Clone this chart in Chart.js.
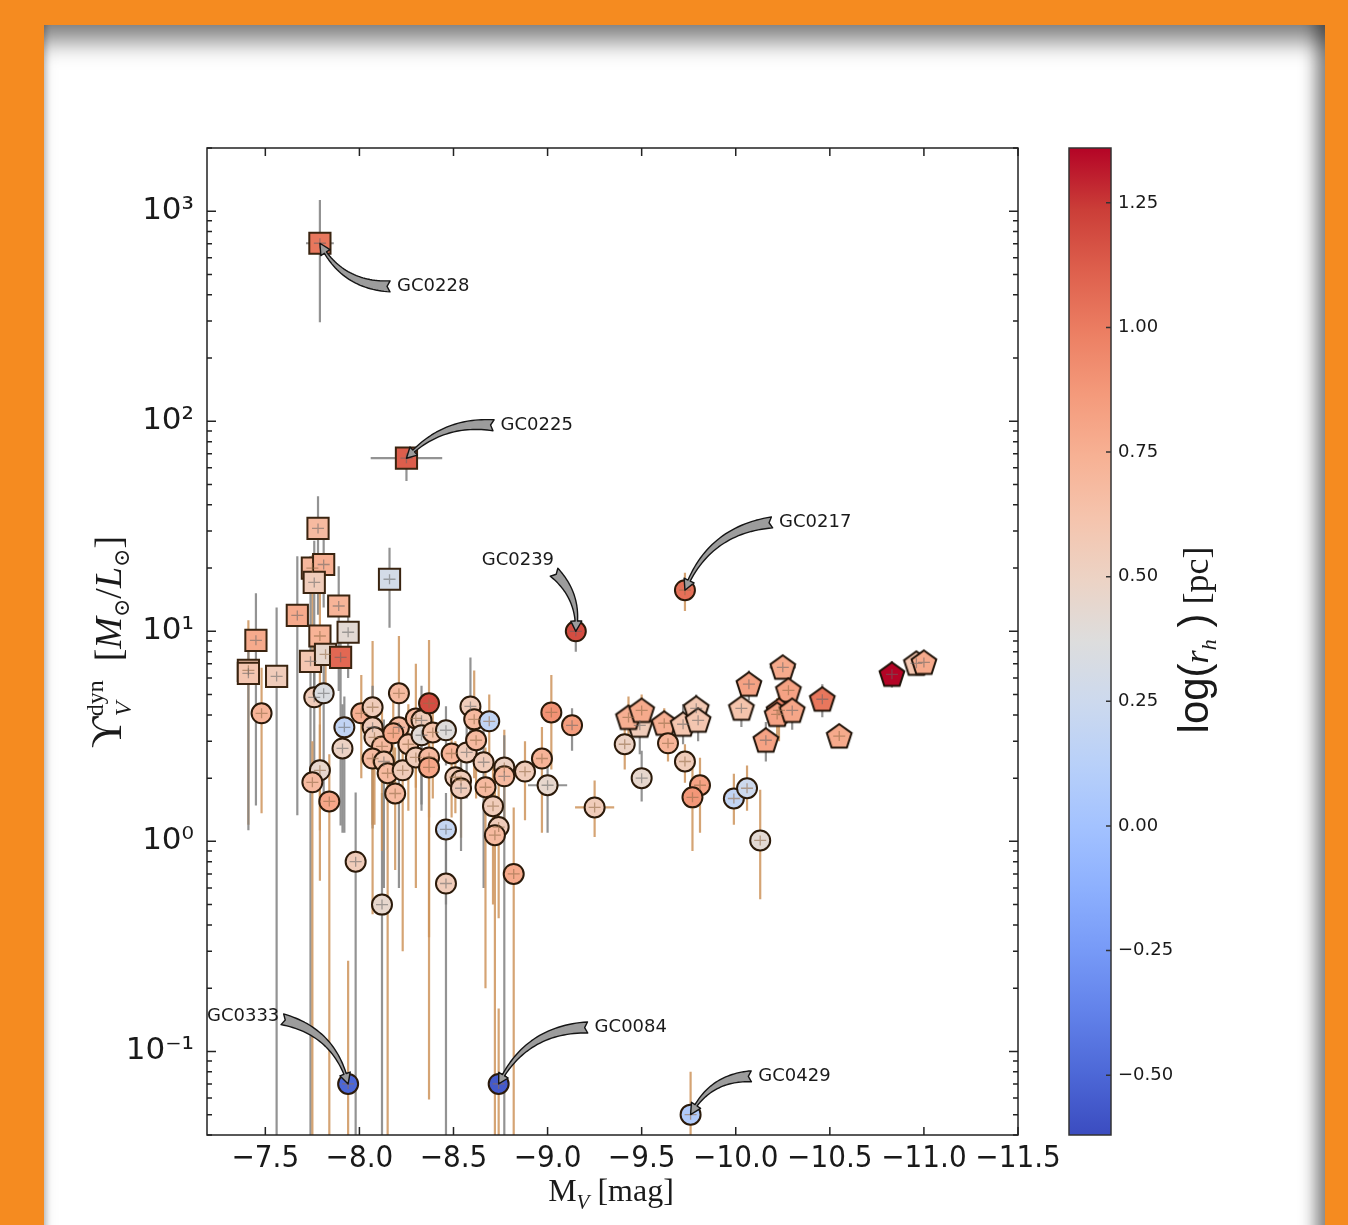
<!DOCTYPE html>
<html>
<head>
<meta charset="utf-8">
<script src="https://cdn.jsdelivr.net/npm/chart.js@4.4.1/dist/chart.umd.min.js"></script>
<style>
  html, body { margin: 0; padding: 0; }
  body { width: 1348px; height: 1225px; background: #f58b20; position: relative; overflow: hidden; }
  #panel { position: absolute; left: 44px; top: 25px; width: 1281px; height: 1260px; background: #fff;
    box-shadow: inset 0 30px 24px -14px rgba(0,0,0,0.5), inset -24px 0 16px -14px rgba(0,0,0,0.45), inset 7px 0 6px -5px rgba(0,0,0,0.25); }
  #main { position: absolute; left: 0; top: 0; }
  #cbar { position: absolute; left: 1060px; top: 0; }
</style>
</head>
<body>
<div id="panel"></div>
<canvas id="main" width="1348" height="1225"></canvas>
<canvas id="cbar" width="288" height="1225"></canvas>
<script>
// axis ticks
const xTickVals = [-7.5, -8.0, -8.5, -9.0, -9.5, -10.0, -10.5, -11.0, -11.5];
const yTickVals = [0.1, 1, 10, 100, 1000];
const yTickLabels = ['10⁻¹', '10⁰', '10¹', '10²', '10³'];
const cbTickVals = [-0.5, -0.25, 0, 0.25, 0.5, 0.75, 1.0, 1.25];
const RH_MIN = -0.62, RH_MAX = 1.36;

// squares: M_V, M/L, lower, upper, log(rh), error source, x error
const sqM  = [-7.79, -8.25, -7.78, -7.75, -7.81, -7.76, -8.16, -7.67, -7.89, -7.45, -7.79, -7.94, -7.74, -7.82, -7.90, -7.41, -7.41, -7.56];
const sqY  = [704, 66.7, 30.9, 20.0, 20.8, 17.1, 17.7, 11.9, 13.2, 9.06, 9.5, 9.9, 7.2, 7.77, 7.52, 6.52, 6.31, 6.1];
const sqLo = [296, 52, 12, 8, 13, 5, 10.4, 1.33, 5.2, 1.48, 1.13, 6.0, 0.03, 4.7, 1.19, 1.2, 1.13, 0.03];
const sqHi = [1130, 75, 44, 23, 28.7, 27, 25, 22.8, 20.4, 15.2, 23, 11.7, 22.8, 9.1, 9.1, 11.3, 10, 13];
const sqRh = [1.02, 1.12, 0.68, 0.7, 0.75, 0.55, 0.3, 0.78, 0.72, 0.78, 0.73, 0.42, 0.6, 0.45, 1.08, 0.62, 0.6, 0.55];
const sqSrc = ['g','g','g','o','g','g','g','g','g','g','o','g','g','o','g','o','g','g'];
const sqXe = [0.074, 0.19, 0.04, 0.04, 0.04, 0.04, 0.04, 0.04, 0.04, 0.04, 0.04, 0.04, 0.04, 0.04, 0.04, 0.04, 0.04, 0.04];

// circles
const ciM = [-7.48,-7.76,-7.81,-7.92,-7.91,-7.79,-7.75,-7.84,-7.98,-8.12,
  -8.01,-8.07,-8.07,-8.08,-8.12,-8.07,-8.13,-8.15,-8.19,-8.21,
  -8.21,-8.18,-8.23,-8.26,-8.30,-8.33,-8.33,-8.37,-8.30,-8.37,
  -8.37,-8.39,-8.46,-8.49,-8.57,-8.51,-8.54,-8.54,-8.59,-8.61,
  -8.69,-8.62,-8.66,-8.77,-8.77,-8.67,-8.71,-8.74,-8.72,-8.46,
  -8.46,-8.82,-8.88,-8.97,-9.00,-9.02,-9.13,-9.25,-9.41,-9.50,
  -9.64,-9.73,-9.81,-9.77,-9.99,-10.06,-10.13,-9.73,-9.15,-7.94,
  -8.74,-9.76];
const ciY = [4.07,4.85,5.07,3.49,2.77,2.18,1.91,1.55,0.80,0.50,
  4.07,4.35,3.49,3.13,2.83,2.48,2.40,2.11,1.69,5.07,
  3.49,3.27,2.18,2.90,3.85,3.77,3.20,4.54,2.51,2.51,
  2.25,3.30,3.38,2.62,2.65,2.02,1.95,1.79,4.39,3.81,
  3.73,3.03,2.38,2.25,2.04,1.81,1.47,1.17,1.07,1.14,
  0.63,0.70,2.15,2.48,1.85,4.11,3.57,1.45,2.90,2.00,
  2.93,2.40,1.85,1.62,1.60,1.79,1.01,15.7,10.0,0.070,
  0.070,0.050];
const ciLo = [1.36,2.0,1.6,1.1,1.1,0.65,0.03,0.03,0.03,0.03,
  2.0,1.2,1.15,1.2,0.9,0.45,0.6,0.03,0.73,2.0,
  0.6,1.5,0.3,1.4,1.8,1.5,1.4,0.059,0.6,1.3,
  0.35,1.6,2.3,1.3,1.6,1.36,1.04,0.9,2.5,2.0,
  2.3,1.6,0.6,1.2,0.03,0.2,0.5,0.43,0.03,0.5,
  0.03,0.03,1.26,1.1,1.1,2.2,2.7,1.05,2.2,1.55,
  2.4,1.9,1.1,0.9,1.2,1.4,0.53,12.5,8.0,0.03,
  0.03,0.03];
const ciHi = [6.7,8.5,9.5,4.9,4.5,3.6,3.0,2.6,1.71,1.7,
  6.2,9.0,5.5,4.6,4.5,4.0,3.8,3.6,2.8,9.5,
  5.3,4.8,3.2,4.5,7.0,5.5,4.6,9.1,3.8,3.9,
  3.4,4.8,4.4,3.7,3.6,3.0,2.9,2.7,7.5,6.5,
  5.0,4.4,3.4,3.4,3.2,2.8,2.4,1.9,2.0,1.7,
  1.1,1.45,3.0,3.5,2.6,6.2,4.3,1.95,3.8,2.7,
  3.5,2.9,2.5,2.25,2.1,2.3,1.76,19,11.5,0.27,
  0.16,0.08];
const ciRh = [0.72,0.55,0.35,0.18,0.5,0.45,0.68,0.8,0.55,0.45,
  0.75,0.55,0.55,0.55,0.68,0.68,0.6,0.68,0.68,0.68,
  0.68,0.78,0.55,0.62,0.68,0.55,0.4,1.18,0.55,0.68,
  0.8,0.62,0.38,0.72,0.55,0.55,0.55,0.55,0.55,0.68,
  0.18,0.68,0.55,0.5,0.68,0.68,0.55,0.55,0.68,0.2,
  0.55,0.78,0.55,0.72,0.45,0.9,0.85,0.55,0.5,0.45,
  0.72,0.55,0.82,0.88,0.18,0.25,0.42,1.05,1.18,-0.5,
  -0.56,0.08];
const ciSrc = ['o','g','g','g','g','o','o','o','g','g',
  'o','o','g','o','o','o','g','o','o','o',
  'g','o','o','o','o','g','g','o','o','o',
  'o','o','g','o','g','o','o','g','g','o',
  'o','o','g','o','g','o','o','o','o','g',
  'g','o','o','o','g','o','g','o','o','g',
  'o','o','o','o','o','o','o','o','g','o',
  'o','o'];
const ciXe = ciM.map((m, i) => (i === 54 || i === 57) ? 0.104 : (i === 37 ? 0.05 : 0.04));

// pentagons
const peM  = [-9.49,-9.43,-9.50,-9.62,-9.72,-9.79,-9.80,-10.03,-10.07,-10.25,-10.28,-10.23,-10.22,-10.30,-10.16,-10.46,-10.55,-10.83,-10.96,-11.00];
const peY  = [3.57,3.89,4.20,3.65,3.61,4.30,3.77,4.30,5.60,6.74,5.24,4.20,4.02,4.20,3.03,4.75,3.17,6.24,7.04,7.11];
const peLo = [2.6,3.0,3.4,2.9,2.9,3.5,3.0,3.5,4.7,6.0,4.4,3.0,3.2,3.4,2.4,3.9,2.8,5.4,6.5,6.5];
const peHi = [4.2,4.9,5.0,4.3,4.5,5.0,4.6,5.0,6.5,7.5,6.1,5.0,4.8,5.0,3.7,5.6,3.6,7.2,7.6,7.7];
const peRh = [0.55,0.75,0.78,0.75,0.6,0.58,0.6,0.62,0.82,0.78,0.82,0.95,0.82,0.8,0.82,1.02,0.78,1.36,0.6,0.78];
const peSrc = ['g','o','o','o','g','g','g','g','g','g','o','o','o','g','g','g','o','g','g','g'];
const peXe = peM.map((m, i) => i === 9 ? 0.07 : 0.04);

// annotations
const annLabel = ['GC0228', 'GC0225', 'GC0217', 'GC0239', 'GC0333', 'GC0084', 'GC0429'];
const annTextM = [-8.20, -8.75, -10.23, -8.65, -7.19, -9.25, -10.12];
const annTextY = [439, 95.7, 33.0, 21.8, 0.147, 0.130, 0.0761];
const annSet = [0, 0, 1, 1, 1, 1, 1];
const annIdx = [0, 1, 67, 68, 69, 70, 71];
const annFrom = ['L', 'L', 'L', 'B', 'R', 'L', 'L'];
const annRad = [0.3, -0.25, -0.3, 0.25, 0.3, -0.3, -0.3];

const COOL = [[0,59,76,192],[0.0625,77,104,215],[0.125,98,130,234],[0.1875,119,154,247],[0.25,141,176,254],
  [0.3125,163,194,255],[0.375,184,208,249],[0.4375,204,217,238],[0.5,221,221,221],[0.5625,236,211,197],
  [0.625,245,196,173],[0.6875,247,177,148],[0.75,244,154,123],[0.8125,236,127,99],[0.875,222,96,77],
  [0.9375,203,62,56],[1,180,4,38]];

function coolwarm(v) {
  let t = (v - RH_MIN) / (RH_MAX - RH_MIN);
  t = Math.max(0, Math.min(1, t));
  for (let i = 1; i < COOL.length; i++) {
    if (t <= COOL[i][0]) {
      const a = COOL[i - 1], b = COOL[i], f = (t - a[0]) / (b[0] - a[0]);
      return 'rgb(' + [1, 2, 3].map(k => Math.round(a[k] + f * (b[k] - a[k]))).join(',') + ')';
    }
  }
  return 'rgb(180,4,38)';
}

function pentagon(color) {
  const c = document.createElement('canvas');
  c.width = 32; c.height = 32;
  const g = c.getContext('2d');
  g.beginPath();
  for (let k = 0; k < 5; k++) {
    const a = -Math.PI / 2 + k * 2 * Math.PI / 5;
    const px = 16 + 13 * Math.cos(a), py = 17 + 13 * Math.sin(a);
    k ? g.lineTo(px, py) : g.moveTo(px, py);
  }
  g.closePath();
  g.fillStyle = color; g.fill();
  g.strokeStyle = '#1e1208'; g.lineWidth = 2; g.stroke();
  return c;
}

const groups = [
  {M: sqM, Y: sqY, lo: sqLo, hi: sqHi, src: sqSrc, xe: sqXe},
  {M: ciM, Y: ciY, lo: ciLo, hi: ciHi, src: ciSrc, xe: ciXe},
  {M: peM, Y: peY, lo: peLo, hi: peHi, src: peSrc, xe: peXe}
];
const srcColor = {g: 'rgba(128,128,128,0.85)', o: 'rgba(206,148,92,0.85)'};

function fancyArrow(ctx, S, E, rad) {
  const dx = E.x - S.x, dy = E.y - S.y;
  const C = {x: (S.x + E.x) / 2 + rad * dy, y: (S.y + E.y) / 2 - rad * dx};
  const P = t => ({x: (1-t)*(1-t)*S.x + 2*(1-t)*t*C.x + t*t*E.x, y: (1-t)*(1-t)*S.y + 2*(1-t)*t*C.y + t*t*E.y});
  const D = t => {
    const x = 2*(1-t)*(C.x-S.x) + 2*t*(E.x-C.x), y = 2*(1-t)*(C.y-S.y) + 2*t*(E.y-C.y);
    const l = Math.hypot(x, y) || 1;
    return {x: x / l, y: y / l};
  };
  const N = 60, acc = [0];
  let prev = P(0);
  for (let i = 1; i <= N; i++) { const p = P(i / N); acc.push(acc[i-1] + Math.hypot(p.x - prev.x, p.y - prev.y)); prev = p; }
  const total = acc[N], headLen = 11;
  let tb = 1;
  for (let i = 0; i <= N; i++) { if (acc[i] >= total - headLen) { tb = i / N; break; } }
  const left = [], right = [], K = 30;
  for (let i = 0; i <= K; i++) {
    const t = tb * i / K, p = P(t), d = D(t), w = 5.5 * (1 - i / K) + 1.2 * (i / K);
    left.push({x: p.x - d.y * w, y: p.y + d.x * w});
    right.push({x: p.x + d.y * w, y: p.y - d.x * w});
  }
  const pb = P(tb), db = D(tb), hw = 5.5, d0 = D(0);
  ctx.beginPath();
  ctx.moveTo(left[0].x, left[0].y);
  left.forEach(p => ctx.lineTo(p.x, p.y));
  ctx.lineTo(pb.x - db.y * hw, pb.y + db.x * hw);
  ctx.lineTo(E.x, E.y);
  ctx.lineTo(pb.x + db.y * hw, pb.y - db.x * hw);
  for (let i = K; i >= 0; i--) ctx.lineTo(right[i].x, right[i].y);
  ctx.lineTo(S.x + d0.x * 3, S.y + d0.y * 3);
  ctx.closePath();
  ctx.fillStyle = '#9c9c9c'; ctx.fill();
  ctx.strokeStyle = '#151515'; ctx.lineWidth = 1.4; ctx.lineJoin = 'round'; ctx.stroke();
}

function richText(ctx, parts, cx, cy, rot) {
  ctx.save();
  ctx.translate(cx, cy); ctx.rotate(rot);
  let x = 0, lastStart = 0;
  const items = [];
  parts.forEach(p => {
    ctx.font = p.f;
    const w = ctx.measureText(p.t).width;
    if (p.same) { items.push({p, x: lastStart}); x = Math.max(x, lastStart + w); }
    else { items.push({p, x}); lastStart = x; x += w; }
  });
  ctx.fillStyle = '#1a1a1a'; ctx.textBaseline = 'alphabetic'; ctx.textAlign = 'left';
  items.forEach(it => { ctx.font = it.p.f; ctx.fillText(it.p.t, it.x - x / 2, it.p.dy || 0); });
  ctx.restore();
}

const errPlugin = {
  id: 'errbars',
  beforeDatasetsDraw(chart) {
    const {ctx, chartArea: a, scales: {x, y}} = chart;
    ctx.save();
    ctx.beginPath(); ctx.rect(a.left, a.top, a.width, a.height); ctx.clip();
    ctx.lineWidth = 2.2;
    groups.forEach(g => g.M.forEach((m, i) => {
      const px = x.getPixelForValue(m), py = y.getPixelForValue(g.Y[i]);
      ctx.strokeStyle = srcColor[g.src[i]];
      ctx.beginPath();
      ctx.moveTo(px, y.getPixelForValue(g.lo[i])); ctx.lineTo(px, y.getPixelForValue(g.hi[i]));
      ctx.moveTo(x.getPixelForValue(m - g.xe[i]), py); ctx.lineTo(x.getPixelForValue(m + g.xe[i]), py);
      ctx.stroke();
    }));
    ctx.restore();
  },
  afterDatasetsDraw(chart) {
    const {ctx, scales: {x, y}} = chart;
    ctx.save();
    ctx.lineWidth = 1.3;
    groups.forEach(g => g.M.forEach((m, i) => {
      const px = x.getPixelForValue(m), py = y.getPixelForValue(g.Y[i]);
      const hx = Math.min(Math.abs(x.getPixelForValue(m + g.xe[i]) - px), 6);
      ctx.strokeStyle = g.src[i] === 'g' ? 'rgba(100,100,100,0.55)' : 'rgba(150,110,75,0.6)';
      ctx.beginPath();
      ctx.moveTo(px - hx, py); ctx.lineTo(px + hx, py);
      ctx.moveTo(px, py - 5); ctx.lineTo(px, py + 5);
      ctx.stroke();
    }));
    // annotations
    ctx.font = '18px "DejaVu Sans"';
    annLabel.forEach((lab, k) => {
      const tx = x.getPixelForValue(annTextM[k]), ty = y.getPixelForValue(annTextY[k]);
      const w = ctx.measureText(lab).width;
      const el = chart.getDatasetMeta(annSet[k]).data[annIdx[k]];
      let S;
      if (annFrom[k] === 'L') S = {x: tx - 7, y: ty};
      else if (annFrom[k] === 'R') S = {x: tx + w + 3, y: ty + 3};
      else S = {x: tx + w, y: ty + 12};
      fancyArrow(ctx, S, {x: el.x, y: el.y}, annRad[k]);
      ctx.fillStyle = '#1a1a1a'; ctx.textBaseline = 'middle'; ctx.textAlign = 'left';
      ctx.fillText(lab, tx, ty);
    });
    ctx.restore();
  },
  afterDraw(chart) {
    const {ctx, chartArea: a, scales: {x, y}} = chart;
    ctx.save();
    ctx.strokeStyle = '#222'; ctx.lineWidth = 1.5;
    ctx.strokeRect(a.left, a.top, a.width, a.height);
    ctx.beginPath();
    xTickVals.forEach(v => {
      const p = x.getPixelForValue(v);
      ctx.moveTo(p, a.bottom); ctx.lineTo(p, a.bottom - 8);
      ctx.moveTo(p, a.top); ctx.lineTo(p, a.top + 8);
    });
    for (let e = -2; e <= 3; e++) {
      for (let k = 1; k < 10; k++) {
        const v = k * Math.pow(10, e);
        if (v < y.min || v > y.max) continue;
        const p = y.getPixelForValue(v), L = k === 1 ? 9 : 5;
        ctx.moveTo(a.left, p); ctx.lineTo(a.left + L, p);
        ctx.moveTo(a.right, p); ctx.lineTo(a.right - L, p);
      }
    }
    ctx.stroke();
    ctx.restore();
    // axis titles
    richText(ctx, [
      {t: 'ϒ', f: '44px "Liberation Serif", "DejaVu Serif"'},
      {t: 'dyn', f: '24px "Liberation Serif"', dy: -18},
      {t: 'V', f: 'italic 24px "Liberation Serif"', dy: 10, same: true},
      {t: '  [', f: '38px "Liberation Serif"'},
      {t: 'M', f: 'italic 38px "Liberation Serif"'},
      {t: '⊙', f: '22px "DejaVu Serif"', dy: 8},
      {t: '/', f: '38px "Liberation Serif"'},
      {t: 'L', f: 'italic 38px "Liberation Serif"'},
      {t: '⊙', f: '22px "DejaVu Serif"', dy: 8},
      {t: ']', f: '38px "Liberation Serif"'}
    ], 121, 642, -Math.PI / 2);
    richText(ctx, [
      {t: 'M', f: '32px "Liberation Serif"'},
      {t: 'V', f: 'italic 21px "Liberation Serif"', dy: 8},
      {t: ' [mag]', f: '32px "Liberation Serif"'}
    ], 611, 1201, 0);
  }
};

Chart.defaults.font.family = '"DejaVu Sans", sans-serif';

new Chart(document.getElementById('main'), {
  type: 'scatter',
  data: {
    datasets: [
      {data: sqM.map((m, i) => ({x: m, y: sqY[i]})), pointStyle: 'rect', pointRadius: 15,
       pointBackgroundColor: sqRh.map(coolwarm), pointBorderColor: '#3a2410', pointBorderWidth: 2},
      {data: ciM.map((m, i) => ({x: m, y: ciY[i]})), pointStyle: 'circle', pointRadius: 10,
       pointBackgroundColor: ciRh.map(coolwarm), pointBorderColor: '#2b1a0a', pointBorderWidth: 2},
      {data: peM.map((m, i) => ({x: m, y: peY[i]})), pointStyle: peRh.map(v => pentagon(coolwarm(v))), pointRadius: 13}
    ]
  },
  options: {
    responsive: false, animation: false, events: [],
    layout: {padding: {left: 0, top: 148, right: 330, bottom: 0}},
    plugins: {legend: {display: false}, tooltip: {enabled: false}},
    scales: {
      x: {
        type: 'linear', min: -11.5, max: -7.19, reverse: true,
        afterBuildTicks: s => { s.ticks = xTickVals.map(v => ({value: v})); },
        afterFit: s => { s.height = 90; },
        ticks: {callback: v => v.toFixed(1).replace('-', '−'), font: {family: '"DejaVu Sans Condensed", "DejaVu Sans"', size: 31},
                color: '#1a1a1a', padding: 5, maxRotation: 0, autoSkip: false},
        grid: {display: false, drawTicks: false}, border: {display: false}
      },
      y: {
        type: 'logarithmic', min: 0.04, max: 2000,
        afterBuildTicks: s => { s.ticks = yTickVals.map(v => ({value: v})); },
        afterFit: s => { s.width = 207; },
        ticks: {callback: v => yTickLabels[yTickVals.indexOf(v)], font: {size: 31}, color: '#1a1a1a', padding: 13, autoSkip: false},
        grid: {display: false, drawTicks: false}, border: {display: false}
      }
    }
  },
  plugins: [errPlugin]
});

const cbarPlugin = {
  id: 'cbar',
  beforeDatasetsDraw(chart) {
    const {ctx, chartArea: a, scales: {y}} = chart;
    ctx.save();
    const g = ctx.createLinearGradient(0, y.getPixelForValue(RH_MIN), 0, y.getPixelForValue(RH_MAX));
    COOL.forEach(s => g.addColorStop(s[0], 'rgb(' + s[1] + ',' + s[2] + ',' + s[3] + ')'));
    ctx.fillStyle = g;
    ctx.fillRect(a.left, a.top, a.width, a.height);
    ctx.strokeStyle = '#333'; ctx.lineWidth = 1.5;
    ctx.strokeRect(a.left, a.top, a.width, a.height);
    ctx.beginPath();
    cbTickVals.forEach(v => { const p = y.getPixelForValue(v); ctx.moveTo(a.right, p); ctx.lineTo(a.right - 5, p); });
    ctx.stroke();
    ctx.restore();
    richText(ctx, [
      {t: 'log(', f: '42px "Liberation Sans"'},
      {t: 'r', f: 'italic 34px "Liberation Serif"'},
      {t: 'h', f: 'italic 22px "Liberation Serif"', dy: 8},
      {t: ' )', f: '42px "Liberation Sans"'},
      {t: ' [pc]', f: '36px "Liberation Serif"'}
    ], 148, 640, -Math.PI / 2);
  }
};

new Chart(document.getElementById('cbar'), {
  type: 'scatter',
  data: {datasets: []},
  options: {
    responsive: false, animation: false, events: [],
    layout: {padding: {left: 9, top: 148, right: 0, bottom: 90}},
    plugins: {legend: {display: false}, tooltip: {enabled: false}},
    scales: {
      x: {display: false, min: 0, max: 1},
      y: {
        position: 'right', min: RH_MIN, max: RH_MAX,
        afterBuildTicks: s => { s.ticks = cbTickVals.map(v => ({value: v})); },
        afterFit: s => { s.width = 237; },
        ticks: {callback: v => v.toFixed(2).replace('-', '−'), font: {size: 18}, color: '#1a1a1a', padding: 7},
        grid: {display: false, drawTicks: false}, border: {display: false}
      }
    }
  },
  plugins: [cbarPlugin]
});
</script>
</body>
</html>
